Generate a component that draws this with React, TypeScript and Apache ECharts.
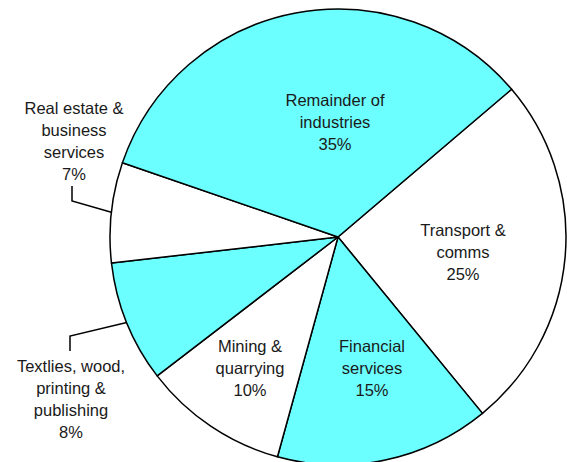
import React, { useEffect, useRef } from "react";
import * as echarts from "echarts";

// Data
const categories = [
  "Transport &\ncomms",
  "Financial\nservices",
  "Mining &\nquarrying",
  "Textlies, wood,\nprinting &\npublishing",
  "Real estate &\nbusiness\nservices",
  "Remainder of\nindustries",
];
const shares = [25.3, 15.2, 10.3, 8.6, 7.1, 33.5];
const percentLabels = ["25%", "15%", "10%", "8%", "7%", "35%"];

// Styling / layout (not data)
const CYAN = "#6cffff";
const fills = ["#ffffff", CYAN, "#ffffff", CYAN, "#ffffff", CYAN];
const outsideLabel = [false, false, false, true, true, false];
const labelCenters: number[][] = [
  [463, 252],
  [372, 368],
  [250, 368],
  [71, 399],
  [74, 141],
  [335, 122],
];
const leaderElbows: (number[][] | null)[] = [
  null,
  null,
  null,
  [[70, 336], [70, 351]],
  [[72, 201], [72, 186]],
  null,
];

export default function App() {
  const ref = useRef<HTMLDivElement>(null);
  useEffect(() => {
    document.body.style.margin = "0";
    if (!ref.current) return;
    const chart = echarts.init(ref.current, undefined, { renderer: "svg" });
    const data = categories.map((name, i) => ({
      name,
      value: shares[i],
      itemStyle: { color: fills[i] },
      label: { position: outsideLabel[i] ? "outside" : "inside" },
      labelLine: { show: outsideLabel[i] },
    }));
    chart.setOption({
      animation: false,
      backgroundColor: "#ffffff",
      series: [
        {
          type: "pie",
          center: [338, 237],
          radius: 228,
          startAngle: 40.4,
          clockwise: true,
          avoidLabelOverlap: false,
          silent: true,
          itemStyle: { borderColor: "#000000", borderWidth: 1.5 },
          label: {
            show: true,
            formatter: (p: any) => p.name + "\n" + percentLabels[p.dataIndex],
            fontFamily: "'Liberation Sans', Arial, sans-serif",
            fontSize: 16.5,
            lineHeight: 22,
            color: "#1a1a1a",
            align: "center",
          },
          labelLine: {
            lineStyle: { color: "#000000", width: 1.5 },
            length: 10,
            length2: 10,
          },
          labelLayout: (params: any) => {
            const i = params.dataIndex;
            const c = labelCenters[i];
            const res: any = {
              x: c[0],
              y: c[1],
              align: "center",
              verticalAlign: "middle",
            };
            const elbow = leaderElbows[i];
            if (elbow && params.labelLinePoints && params.labelLinePoints[0]) {
              res.labelLinePoints = [params.labelLinePoints[0], elbow[0], elbow[1]];
            }
            return res;
          },
          data,
        },
      ],
    });
    return () => chart.dispose();
  }, []);
  return <div ref={ref} style={{ width: 567, height: 462 }} />;
}
